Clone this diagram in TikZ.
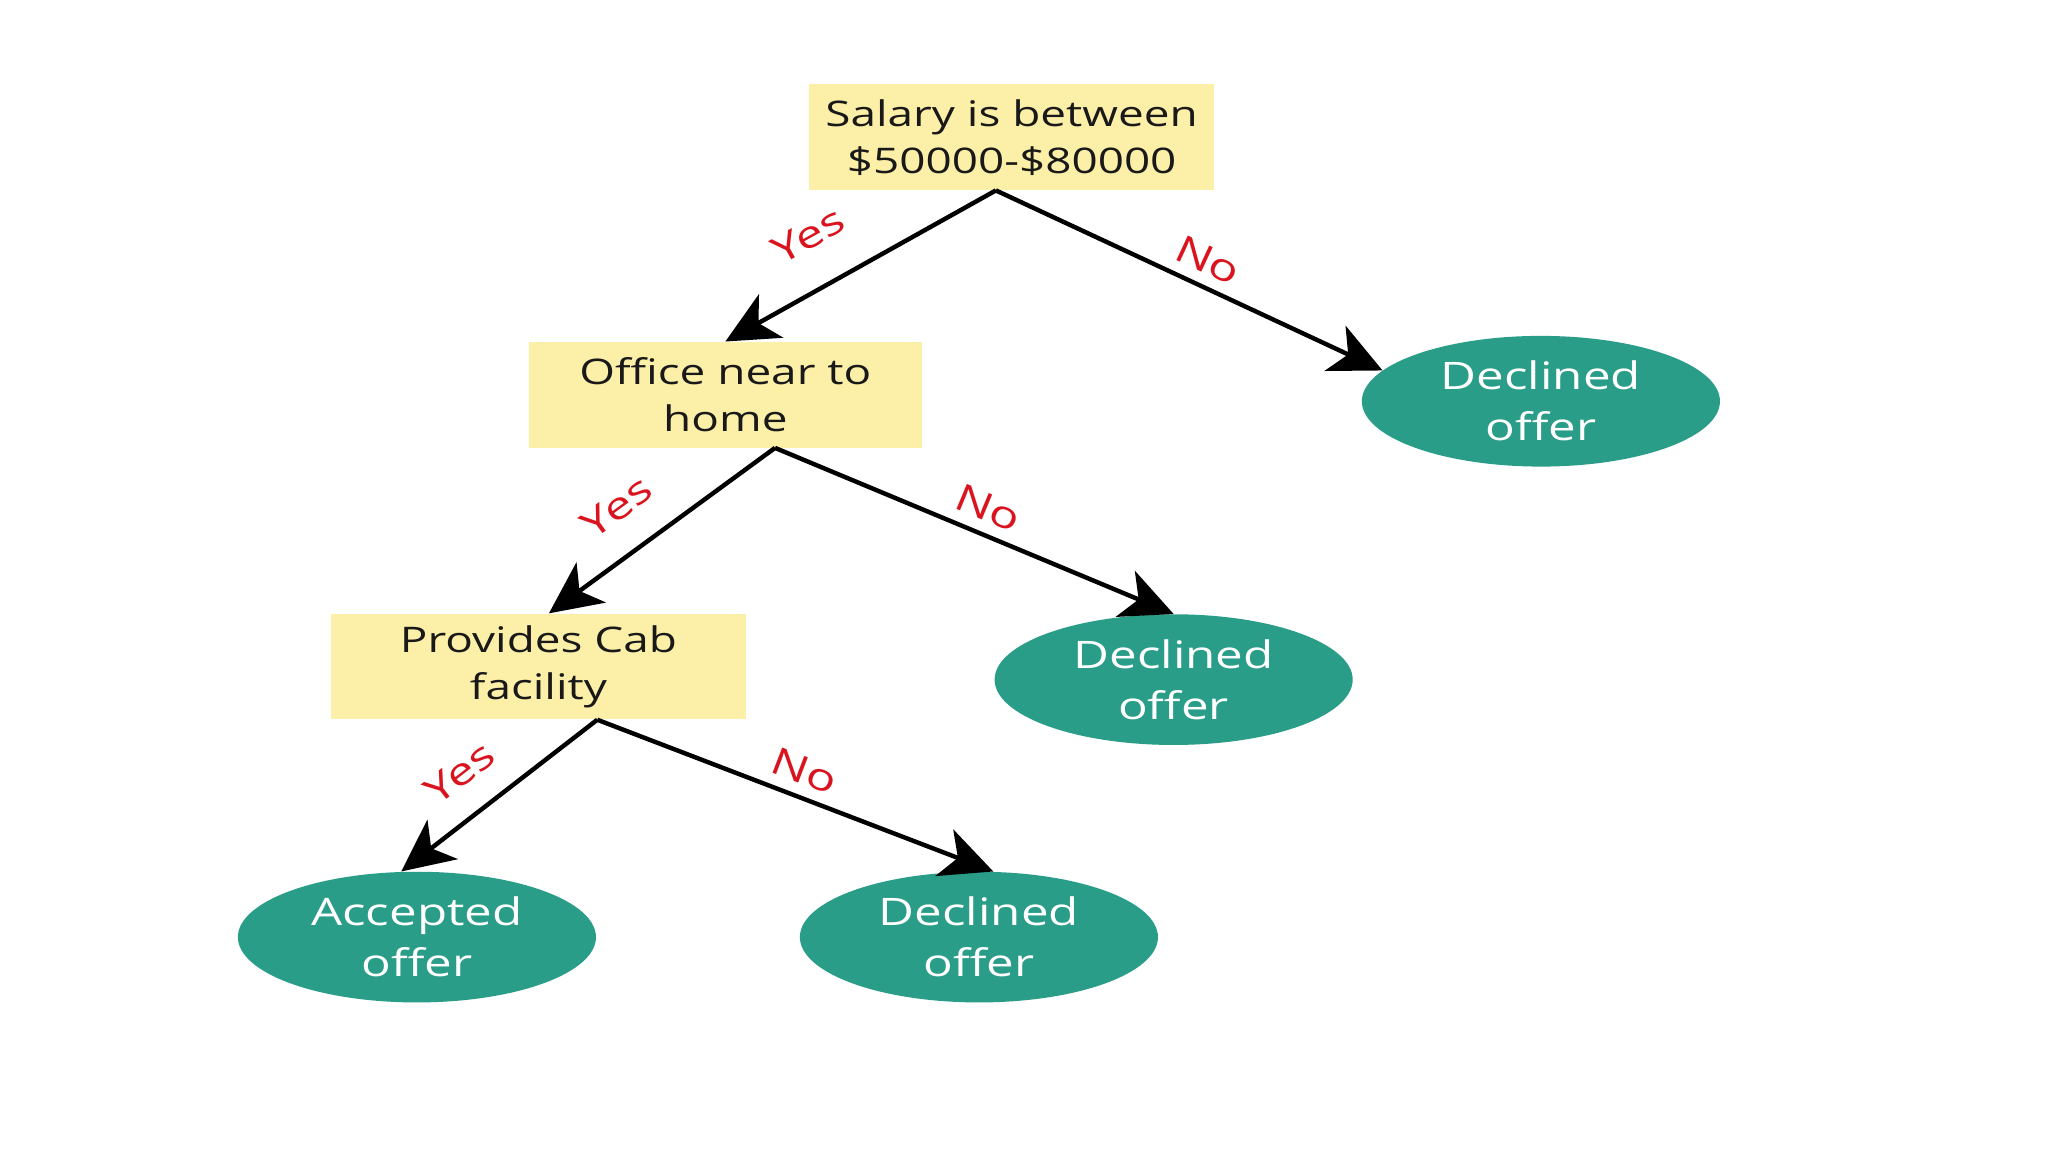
\documentclass[tikz,border=0pt]{standalone}
\usepackage{fontspec}
\setmainfont{Open Sans}[FakeStretch=1.3]
\usetikzlibrary{shapes.geometric,arrows.meta}
\definecolor{boxyellow}{HTML}{FCEFA8}
\definecolor{leafteal}{HTML}{2A9D89}
\definecolor{labelred}{HTML}{D9141E}

\begin{document}
\begin{tikzpicture}[x=1pt,y=-1pt,
  question/.style={fill=boxyellow, inner sep=0pt, minimum height=81pt,
    align=center, text=black!90, font=\fontsize{27}{36}\selectfont},
  leaf/.style={ellipse, fill=leafteal, inner sep=0pt, minimum width=274pt,
    minimum height=100pt, align=center, text=white, font=\fontsize{29}{39}\selectfont},
  branch/.style={line width=3.4pt, -{Stealth[length=40pt,width=38pt,inset=11pt]}},
  answer/.style={sloped, inner sep=0pt, above=8pt, text=labelred,
    font=\fontsize{29}{32}\selectfont}]
  \useasboundingbox (0,0) rectangle (1567,881);
  % questions
  \node[question, minimum width=310pt] (salary) at (774,105) {Salary is between\\\$50000-\$80000};
  \node[question, minimum width=301pt] (office) at (555,302) {Office near to\\home};
  \node[question, minimum width=317pt] (cab) at (412,510) {Provides Cab\\facility};
  % outcomes
  \node[leaf] (decline1) at (1179,307) {Declined\\offer};
  \node[leaf] (decline2) at (898,520) {Declined\\offer};
  \node[leaf] (accept) at (319,717) {Accepted\\offer};
  \node[leaf] (decline3) at (749,717) {Declined\\offer};
  % branches
  \draw[branch] ([xshift=-12pt]salary.south) -- node[answer, pos=0.6, above=20pt] {Yes} (office.north);
  \draw[branch] ([xshift=-12pt]salary.south) -- node[answer, pos=0.52] {No} (decline1.169);
  \draw[branch] ([xshift=38pt]office.south) -- node[answer, pos=0.58, above=15pt] {Yes} ([xshift=8pt]cab.north);
  \draw[branch] ([xshift=38pt]office.south) -- node[answer, pos=0.51] {No} (decline2.north);
  \draw[branch] ([xshift=45pt]cab.south) -- node[answer, pos=0.57, above=12pt] {Yes} ([xshift=-12pt]accept.north);
  \draw[branch] ([xshift=45pt]cab.south) -- node[answer, pos=0.5] {No} ([xshift=11pt]decline3.north);
\end{tikzpicture}
\end{document}
